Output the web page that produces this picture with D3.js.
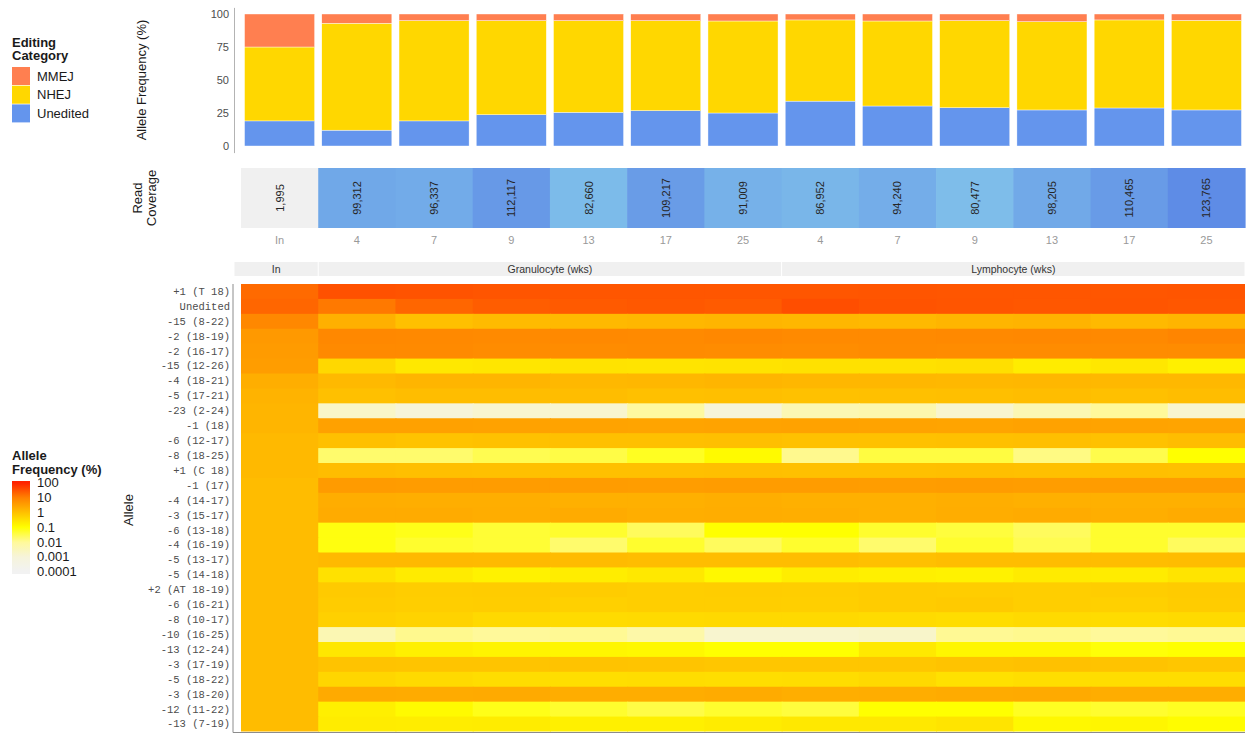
<!DOCTYPE html>
<html>
<head>
<meta charset="utf-8">
<script src="https://cdn.jsdelivr.net/npm/d3@7"></script>
<style>
  html, body { margin: 0; padding: 0; background: #ffffff; }
  svg { display: block; font-family: "Liberation Sans", Arial, sans-serif; }
</style>
</head>
<body>
<svg id="chart" width="1250" height="734"></svg>
<script>
// ---- data ----------------------------------------------------------------
const sampleIds   = ["In", "G4", "G7", "G9", "G13", "G17", "G25", "L4", "L7", "L9", "L13", "L17", "L25"];
const sampleTicks = ["In", "4", "7", "9", "13", "17", "25", "4", "7", "9", "13", "17", "25"];
const sampleGroup = ["In", "Granulocyte (wks)", "Granulocyte (wks)", "Granulocyte (wks)", "Granulocyte (wks)", "Granulocyte (wks)", "Granulocyte (wks)",
                     "Lymphocyte (wks)", "Lymphocyte (wks)", "Lymphocyte (wks)", "Lymphocyte (wks)", "Lymphocyte (wks)", "Lymphocyte (wks)"];
const groups = ["In", "Granulocyte (wks)", "Lymphocyte (wks)"];

// editing category composition (%)
const categories = ["Unedited", "NHEJ", "MMEJ"];
const uneditedPct = [19, 12, 19, 23.7, 25.5, 26.8, 25, 34, 30.3, 29, 27.3, 28.8, 27.3];
const nhejPct     = [56, 81, 76, 71.3, 69.5, 68.2, 69.7, 61.5, 64.4, 66, 66.9, 66.7, 67.9];
const mmejPct     = [25, 7, 5, 5, 5, 5, 5.3, 4.5, 5.3, 5, 5.8, 4.5, 4.8];
const categoryColors = { MMEJ: "#ff7f50", NHEJ: "#ffd700", Unedited: "#6495ed" };
const barTicks = [0, 25, 50, 75, 100];

// read coverage per sample
const readCoverage = [1995, 99312, 96337, 112117, 82660, 109217, 91009, 86952, 94240, 80477, 98205, 110465, 123765];

// alleles and their frequency (%) per sample
const alleles = ["+1 (T 18)", "Unedited", "-15 (8-22)", "-2 (18-19)", "-2 (16-17)", "-15 (12-26)", "-4 (18-21)", "-5 (17-21)",
  "-23 (2-24)", "-1 (18)", "-6 (12-17)", "-8 (18-25)", "+1 (C 18)", "-1 (17)", "-4 (14-17)", "-3 (15-17)", "-6 (13-18)",
  "-4 (16-19)", "-5 (13-17)", "-5 (14-18)", "+2 (AT 18-19)", "-6 (16-21)", "-8 (10-17)", "-10 (16-25)", "-13 (12-24)",
  "-3 (17-19)", "-5 (18-22)", "-3 (18-20)", "-12 (11-22)", "-13 (7-19)"];
const alleleFreq = [
  [17, 32, 30, 29, 28, 28, 28, 28, 29, 28, 28, 28, 29],
  [19, 12, 19, 23.7, 25.5, 26.8, 25, 34, 30.3, 29, 27.3, 28.8, 27.3],
  [7.5, 1.8, 1.0, 1.2, 1.3, 1.4, 1.5, 1.4, 1.3, 1.5, 1.6, 1.3, 1.5],
  [4, 7.5, 7.3, 7, 7.2, 7, 7.5, 7, 7, 7.2, 7.5, 7.3, 8.5],
  [3.8, 7, 7, 6.5, 6.6, 6.8, 6.5, 6.3, 6.7, 6.5, 6.6, 6.5, 6.6],
  [3.5, 0.42, 0.23, 0.25, 0.28, 0.27, 0.28, 0.3, 0.3, 0.32, 0.2, 0.24, 0.17],
  [1.9, 1.3, 1.5, 1.5, 1.35, 1.4, 1.5, 1.4, 1.4, 1.35, 1.4, 1.35, 1.35],
  [1.6, 1.0, 1.1, 1.1, 1.1, 1.0, 1.05, 0.95, 1.0, 1.05, 1.1, 1.0, 1.1],
  [1.5, 0.002, 0.001, 0.0015, 0.0015, 0.008, 0.001, 0.004, 0.005, 0.0015, 0.004, 0.01, 0.0015],
  [1.5, 3, 3, 2.9, 2.8, 2.7, 2.8, 2.9, 2.8, 2.7, 2.9, 2.8, 2.7],
  [1.3, 1.0, 0.9, 0.95, 1.0, 1.0, 1.05, 0.95, 0.95, 1.0, 1.05, 0.95, 1.1],
  [1.3, 0.02, 0.02, 0.03, 0.035, 0.06, 0.12, 0.012, 0.038, 0.038, 0.014, 0.032, 0.1],
  [1.3, 1.1, 1.05, 1.0, 1.0, 1.0, 1.05, 1.0, 1.0, 1.05, 1.0, 1.05, 1.0],
  [1.15, 3.8, 3.6, 3.7, 3.6, 3.5, 3.7, 3.6, 3.5, 3.6, 3.5, 3.6, 3.6],
  [1.15, 2, 1.9, 1.9, 1.8, 1.8, 1.9, 1.8, 1.8, 1.9, 1.8, 1.8, 1.8],
  [1.15, 2.1, 2.1, 2.0, 2.1, 1.9, 2.0, 1.9, 1.8, 2.0, 2.1, 1.9, 2.1],
  [1.15, 0.08, 0.07, 0.045, 0.05, 0.025, 0.1, 0.1, 0.05, 0.04, 0.025, 0.05, 0.05],
  [1.15, 0.08, 0.05, 0.045, 0.02, 0.05, 0.025, 0.05, 0.02, 0.05, 0.03, 0.05, 0.025],
  [1.15, 1.3, 1.3, 1.25, 1.2, 1.1, 1.1, 1.1, 1.0, 1.1, 1.1, 1.1, 1.15],
  [1.15, 0.3, 0.21, 0.16, 0.19, 0.23, 0.13, 0.19, 0.17, 0.16, 0.21, 0.2, 0.27],
  [1.15, 0.7, 0.62, 0.65, 0.65, 0.6, 0.62, 0.6, 0.65, 0.62, 0.6, 0.62, 0.68],
  [1.15, 0.65, 0.6, 0.62, 0.55, 0.6, 0.6, 0.58, 0.65, 0.7, 0.6, 0.55, 0.65],
  [1.15, 0.55, 0.5, 0.4, 0.37, 0.38, 0.4, 0.4, 0.37, 0.35, 0.38, 0.36, 0.38],
  [1.15, 0.004, 0.012, 0.01, 0.011, 0.006, 0.0015, 0.0015, 0.0018, 0.011, 0.012, 0.01, 0.011],
  [1.15, 0.24, 0.17, 0.15, 0.14, 0.13, 0.1, 0.1, 0.22, 0.14, 0.14, 0.09, 0.1],
  [1.15, 0.9, 0.85, 0.85, 0.9, 0.85, 0.8, 0.8, 0.8, 0.9, 0.95, 0.9, 0.8],
  [1.15, 0.45, 0.38, 0.35, 0.33, 0.35, 0.33, 0.35, 0.4, 0.3, 0.33, 0.35, 0.35],
  [1.15, 2.2, 2.1, 2.2, 2.0, 2.0, 2.1, 1.9, 2.0, 2.1, 2.2, 2.0, 2.0],
  [1.15, 0.18, 0.12, 0.07, 0.05, 0.035, 0.05, 0.04, 0.1, 0.1, 0.06, 0.05, 0.06],
  [1.15, 0.2, 0.19, 0.2, 0.17, 0.17, 0.2, 0.23, 0.23, 0.27, 0.13, 0.14, 0.11]
];
const freqLegendTicks = [100, 10, 1, 0.1, 0.01, 0.001, 0.0001];
const freqLegendLabels = ["100", "10", "1", "0.1", "0.01", "0.001", "0.0001"];

// ---- scales ---------------------------------------------------------------
const svg = d3.select("#chart");
const panelLeft = 241, panelRight = 1245, axisX = 233;
const mono = "'Liberation Mono', 'Courier New', monospace";
const textDark = "#1a1a1a", textGrey = "#4d4d4d";

const x = d3.scaleBand().domain(sampleIds).range([panelLeft, panelRight]).paddingInner(0).paddingOuter(0);
const xBar = d3.scaleBand().domain(sampleIds).range([panelLeft, panelRight]).paddingInner(0.093).paddingOuter(0.046);

const yBar = d3.scaleLinear().domain([-5, 105]).range([152.6, 7.4]);

const freqStops = [-4, -3, -2, -1, 0, 1, 2];
const freqColors = ["#f2f2f2", "#f6f4da", "#fff99a", "#ffff00", "#ffc000", "#ff8000", "#ff2200"];
const freqColor = d3.scaleLinear().domain(freqStops).range(freqColors).clamp(true);
const colorOf = v => freqColor(Math.log10(v));

const covColor = d3.scaleLinear().domain([80477, 123765]).range(["#7ebdea", "#5e8ce6"]);

const yHeat = d3.scaleBand().domain(alleles).range([284, 731.5]);

// ---- stacked bars ---------------------------------------------------------
const barRows = sampleIds.map((id, i) => ({ id, Unedited: uneditedPct[i], NHEJ: nhejPct[i], MMEJ: mmejPct[i] }));
const stacked = d3.stack().keys(categories)(barRows);

svg.append("g").selectAll("g").data(stacked).join("g")
  .attr("fill", d => categoryColors[d.key])
  .selectAll("rect").data(d => d).join("rect")
  .attr("x", d => xBar(d.data.id))
  .attr("width", xBar.bandwidth())
  .attr("y", d => yBar(d[1]))
  .attr("height", d => yBar(d[0]) - yBar(d[1]))
  .attr("stroke", "#ffffff").attr("stroke-width", 0.4);

const yAxisBar = svg.append("g").attr("transform", `translate(${axisX + 1},0)`)
  .call(d3.axisLeft(yBar).tickValues(barTicks).tickSize(0).tickPadding(5));
yAxisBar.select(".domain").attr("stroke", "#b3b3b3");
yAxisBar.selectAll("text").attr("fill", textGrey).style("font-size", "11px")
  .style("font-family", "'Liberation Sans', Arial, sans-serif");

svg.append("text").attr("transform", `translate(146,80) rotate(-90)`)
  .attr("text-anchor", "middle").attr("fill", textDark).style("font-size", "13px")
  .text("Allele Frequency (%)");

// ---- read coverage --------------------------------------------------------
const covTop = 168, covBottom = 228;
const cov = svg.append("g");
cov.selectAll("rect").data(sampleIds).join("rect")
  .attr("x", d => x(d)).attr("width", x.bandwidth() + 0.6)
  .attr("y", covTop).attr("height", covBottom - covTop)
  .attr("fill", (d, i) => d === "In" ? "#f0f0f0" : covColor(readCoverage[i]));
cov.selectAll("text").data(sampleIds).join("text")
  .attr("transform", (d, i) => `translate(${x(d) + x.bandwidth() / 2 + 4},${(covTop + covBottom) / 2}) rotate(-90)`)
  .attr("text-anchor", "middle").attr("fill", "#262626").style("font-size", "11px")
  .text((d, i) => d3.format(",")(readCoverage[i]));

const covAxis = svg.append("g").attr("transform", `translate(0,${covBottom})`)
  .call(d3.axisBottom(x).tickSize(0).tickPadding(8).tickFormat((d, i) => sampleTicks[i]));
covAxis.select(".domain").remove();
covAxis.selectAll("text").attr("fill", "#999999").style("font-size", "11px")
  .style("font-family", "'Liberation Sans', Arial, sans-serif");

const covTitle = svg.append("text").attr("transform", `translate(147,198) rotate(-90)`)
  .attr("text-anchor", "middle").attr("fill", textDark).style("font-size", "13px");
covTitle.append("tspan").attr("x", 0).attr("dy", "-0.35em").text("Read");
covTitle.append("tspan").attr("x", 0).attr("dy", "1.05em").text("Coverage");

// ---- facet strips ---------------------------------------------------------
const stripTop = 262, stripH = 14;
const stripSpans = groups.map(g => {
  const ids = sampleIds.filter((d, i) => sampleGroup[i] === g);
  return { g, x0: x(ids[0]), x1: x(ids[ids.length - 1]) + x.bandwidth() };
});
stripSpans[0].x0 = axisX + 1;
const strips = svg.append("g");
strips.selectAll("rect").data(stripSpans).join("rect")
  .attr("x", d => d.x0 + 0.5).attr("width", d => d.x1 - d.x0 - 1)
  .attr("y", stripTop).attr("height", stripH).attr("fill", "#f0f0f0");
strips.selectAll("text").data(stripSpans).join("text")
  .attr("x", d => (d.x0 + d.x1) / 2).attr("y", stripTop + stripH / 2).attr("dy", "0.35em")
  .attr("text-anchor", "middle").attr("fill", "#333333").style("font-size", "10.5px")
  .text(d => d.g);

// ---- allele heatmap -------------------------------------------------------
// each tile overlaps its right/bottom neighbour by a pixel so no seams show
const cells = [];
alleles.forEach((a, r) => sampleIds.forEach((s, c) => cells.push({ a, s, v: alleleFreq[r][c], last: c === sampleIds.length - 1, bottom: r === alleles.length - 1 })));
svg.append("g").selectAll("rect").data(cells).join("rect")
  .attr("x", d => x(d.s)).attr("width", d => x.bandwidth() + (d.last ? 0 : 1))
  .attr("y", d => yHeat(d.a)).attr("height", d => yHeat.bandwidth() + (d.bottom ? 0 : 1))
  .attr("fill", d => colorOf(d.v));

const yAxisHeat = svg.append("g").attr("transform", `translate(${axisX},0)`)
  .call(d3.axisLeft(yHeat).tickSize(0).tickPadding(3));
yAxisHeat.select(".domain").attr("stroke", "#8c8c8c").attr("d", `M0,${yHeat.range()[0]}V${yHeat.range()[1] + 1}`);
yAxisHeat.selectAll("text").attr("fill", textGrey).style("font-size", "10.5px").style("font-family", mono);

svg.append("line").attr("x1", axisX).attr("x2", panelRight)
  .attr("y1", yHeat.range()[1] + 1).attr("y2", yHeat.range()[1] + 1)
  .attr("stroke", "#8c8c8c");

svg.append("text").attr("transform", `translate(133,510) rotate(-90)`)
  .attr("text-anchor", "middle").attr("fill", textDark).style("font-size", "13px")
  .text("Allele");

// ---- legend: editing category ----------------------------------------------
const leg1 = svg.append("g");
leg1.append("text").attr("x", 12).attr("y", 47).attr("font-weight", "bold").attr("fill", textDark)
  .style("font-size", "13px").text("Editing");
leg1.append("text").attr("x", 12).attr("y", 60).attr("font-weight", "bold").attr("fill", textDark)
  .style("font-size", "13px").text("Category");
const legendCats = ["MMEJ", "NHEJ", "Unedited"];
leg1.selectAll("rect").data(legendCats).join("rect")
  .attr("x", 12).attr("y", (d, i) => 67 + i * 18.7).attr("width", 18).attr("height", 18)
  .attr("fill", d => categoryColors[d]);
leg1.selectAll("text.lab").data(legendCats).join("text").attr("class", "lab")
  .attr("x", 37).attr("y", (d, i) => 76 + i * 18.7).attr("dy", "0.35em")
  .attr("fill", textDark).style("font-size", "13px").text(d => d);

// ---- legend: allele frequency colourbar ------------------------------------
const leg2 = svg.append("g");
leg2.append("text").attr("x", 12).attr("y", 460).attr("font-weight", "bold").attr("fill", textDark)
  .style("font-size", "13px").text("Allele");
leg2.append("text").attr("x", 12).attr("y", 474).attr("font-weight", "bold").attr("fill", textDark)
  .style("font-size", "13px").text("Frequency (%)");

const yLeg = d3.scaleLog().domain([0.0001, 100]).range([571.7, 482.7]);
const barTop = 481, barBottom = 574;
const grad = svg.append("defs").append("linearGradient").attr("id", "freqGrad")
  .attr("x1", 0).attr("x2", 0).attr("y1", 0).attr("y2", 1);
d3.range(0, 1.0001, 0.02).forEach(t => {
  const yy = barTop + t * (barBottom - barTop);
  grad.append("stop").attr("offset", t).attr("stop-color", colorOf(yLeg.invert(yy)));
});
leg2.append("rect").attr("x", 12).attr("y", barTop).attr("width", 18).attr("height", barBottom - barTop)
  .attr("fill", "url(#freqGrad)");
leg2.selectAll("text.tick").data(freqLegendTicks).join("text").attr("class", "tick")
  .attr("x", 37).attr("y", d => yLeg(d)).attr("dy", "0.35em")
  .attr("fill", textDark).style("font-size", "13px")
  .text((d, i) => freqLegendLabels[i]);
</script>
</body>
</html>
